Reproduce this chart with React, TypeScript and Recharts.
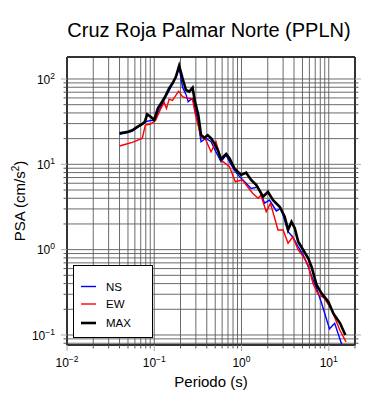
import React from 'react';
import { LineChart, Line, XAxis, YAxis, CartesianGrid, Legend } from 'recharts';

const FONT = '"Liberation Sans", Arial, Helvetica, sans-serif';

const nsPeriods = [0.04, 0.05, 0.056, 0.064, 0.073, 0.078, 0.083, 0.091, 0.1, 0.11, 0.12, 0.13, 0.136, 0.15, 0.16, 0.177, 0.193, 0.211, 0.231, 0.245, 0.26, 0.275, 0.3, 0.32, 0.344, 0.39, 0.448, 0.51, 0.583, 0.667, 0.728, 0.85, 0.95, 1.29, 1.55, 1.84, 2.09, 2.51, 2.84, 3.42, 3.87, 4.47, 5.1, 5.82, 6.35, 7.26, 8.28, 10.2, 11.7, 14.3];
const nsValues = [22.5, 23.5, 24.5, 27, 29.5, 31, 32, 32.5, 33, 40, 48, 57, 62, 75, 86, 104, 135, 80, 66, 54, 57, 59, 41, 30, 18.4, 20.2, 18.4, 14.0, 10.7, 12.8, 10.7, 8.2, 7.18, 5.21, 5.43, 3.51, 3.81, 2.84, 3.06, 1.62, 1.41, 1.08, 0.865, 0.63, 0.49, 0.35, 0.235, 0.118, 0.137, 0.074];

const ewPeriods = [0.04, 0.047, 0.056, 0.064, 0.073, 0.079, 0.091, 0.104, 0.119, 0.13, 0.138, 0.148, 0.162, 0.19, 0.211, 0.231, 0.26, 0.275, 0.293, 0.32, 0.344, 0.39, 0.448, 0.51, 0.583, 0.728, 0.85, 1.02, 1.34, 1.55, 1.67, 1.92, 2.15, 2.62, 3.0, 3.42, 3.87, 4.47, 5.1, 5.82, 6.6, 7.55, 8.9, 10.7, 13.5, 15.8];
const ewValues = [16.4, 17.2, 18.1, 19.1, 20.2, 28.9, 29.7, 33.1, 45, 53, 45, 58, 56, 72, 62, 60, 59, 58, 40, 28, 21, 19.3, 14, 18.4, 11.2, 9.4, 6.24, 6.6, 4.58, 4.0, 4.35, 2.79, 3.49, 1.70, 1.70, 1.19, 1.41, 0.99, 0.83, 0.66, 0.40, 0.30, 0.27, 0.20, 0.112, 0.083];

const maxPeriods = [0.04, 0.05, 0.056, 0.064, 0.073, 0.078, 0.083, 0.091, 0.1, 0.11, 0.12, 0.13, 0.136, 0.148, 0.162, 0.177, 0.193, 0.211, 0.231, 0.252, 0.275, 0.293, 0.32, 0.344, 0.375, 0.41, 0.448, 0.489, 0.535, 0.583, 0.667, 0.728, 0.83, 0.99, 1.13, 1.29, 1.48, 1.77, 2.01, 2.3, 2.74, 3.13, 3.42, 3.74, 4.08, 4.47, 5.1, 5.82, 6.35, 7.26, 8.28, 9.89, 11.3, 13.5, 15.5];
const maxValues = [23.1, 24.1, 25.0, 27.4, 29.7, 31.6, 38.6, 36.1, 33.1, 45.4, 51.9, 59.4, 64.9, 77.8, 89, 106, 143, 102, 74.3, 71, 79.1, 54.2, 37.8, 22.0, 20.5, 22.0, 20.2, 17.6, 14.7, 11.5, 13.2, 11.8, 8.98, 7.49, 7.98, 6.55, 5.72, 4.17, 4.77, 3.81, 3.18, 2.43, 1.70, 2.12, 1.78, 1.24, 0.99, 0.79, 0.63, 0.385, 0.307, 0.245, 0.179, 0.137, 0.0998];

const xTicks = [0.01, 0.02, 0.03, 0.04, 0.05, 0.06, 0.07, 0.08, 0.09, 0.1, 0.2, 0.3, 0.4, 0.5, 0.6, 0.7, 0.8, 0.9, 1, 2, 3, 4, 5, 6, 7, 8, 9, 10, 20];
const yTicks = [0.08, 0.09, 0.1, 0.2, 0.3, 0.4, 0.5, 0.6, 0.7, 0.8, 0.9, 1, 2, 3, 4, 5, 6, 7, 8, 9, 10, 20, 30, 40, 50, 60, 70, 80, 90, 100];

const seriesOrder = ['NS', 'EW', 'MAX'];

const X_DOMAIN: [number, number] = [0.01, 20];
const Y_DOMAIN: [number, number] = [0.0763, 181];

const TITLE = 'Cruz Roja Palmar Norte (PPLN)';
const X_LABEL = 'Periodo (s)';
const Y_LABEL = 'PSA (cm/s';

const toData = (ps: number[], vs: number[]) => ps.map((p, i) => ({ p, v: vs[i] }));
const nsData = toData(nsPeriods, nsValues);
const ewData = toData(ewPeriods, ewValues);
const maxData = toData(maxPeriods, maxValues);

const isMajor = (v: number) => Math.abs(Math.log10(v) - Math.round(Math.log10(v))) < 1e-6;
const expOf = (v: number) => {
  const e = Math.round(Math.log10(v));
  return e < 0 ? '\u2212' + Math.abs(e) : String(e);
};

const MAJ_LEN = 6;
const MIN_LEN = 3.5;
const MAJ_COL = '#aaaaaa';
const MIN_COL = '#555555';

const makeTick = (side: 'bottom' | 'top' | 'left' | 'right') => (props: any) => {
  const { x, y, payload } = props;
  const v = payload.value;
  const major = isMajor(v);
  const len = major ? MAJ_LEN : MIN_LEN;
  const col = major ? MAJ_COL : MIN_COL;
  let line;
  if (side === 'bottom') line = <line x1={x} x2={x} y1={y} y2={y + len} stroke={col} strokeWidth={1} />;
  else if (side === 'top') line = <line x1={x} x2={x} y1={y} y2={y - len} stroke={col} strokeWidth={1} />;
  else if (side === 'left') line = <line x1={x} x2={x - len} y1={y} y2={y} stroke={col} strokeWidth={1} />;
  else line = <line x1={x} x2={x + len} y1={y} y2={y} stroke={col} strokeWidth={1} />;
  let label = null;
  if (major && side === 'bottom') {
    label = (
      <text x={x} y={y + 21.7} textAnchor="middle" fontSize={12} fontFamily={FONT} fill="#000">
        <tspan>10</tspan>
        <tspan dy={-5} fontSize={8.5}>{expOf(v)}</tspan>
      </text>
    );
  } else if (major && side === 'left') {
    label = (
      <text x={x - 12} y={y + 4.6} textAnchor="end" fontSize={12} fontFamily={FONT} fill="#000">
        <tspan>10</tspan>
        <tspan dy={-5} fontSize={8.5}>{expOf(v)}</tspan>
      </text>
    );
  }
  return (
    <g>
      {line}
      {label}
    </g>
  );
};

const AXIS_LINE = { stroke: '#333333', strokeWidth: 2 };
const WIDTHS: Record<string, number> = { NS: 1.4, EW: 1.4, MAX: 2.6 };

const LegendBox = (props: any) => {
  const items = [...(props.payload || [])].sort(
    (a: any, b: any) => seriesOrder.indexOf(a.value) - seriesOrder.indexOf(b.value)
  );
  return (
    <div style={{ width: 80, height: 73, border: '1.5px solid #000', background: '#fff', boxSizing: 'border-box' }}>
      <svg width={77} height={70} style={{ display: 'block' }}>
        {items.map((it: any, i: number) => {
          const cy = [20.5, 38, 57][i] ?? 20 + i * 18;
          return (
            <g key={it.value}>
              <line x1={7} x2={22} y1={cy} y2={cy} stroke={it.color} strokeWidth={WIDTHS[it.value] ?? 1.5} />
              <text x={32} y={cy + 4.2} fontSize={11.5} fontFamily={FONT} fill="#000">{it.value}</text>
            </g>
          );
        })}
      </svg>
    </div>
  );
};

export default function App() {
  return (
    <div style={{ position: 'absolute', left: 0, top: 0, width: 390, height: 400, background: '#fff' }}>
      <LineChart width={390} height={400} margin={{ top: 56, right: 34, bottom: 15, left: 17 }}>
        <CartesianGrid stroke="#5a5a5a" strokeWidth={0.9} />
        <XAxis
          dataKey="p"
          type="number"
          scale="log"
          domain={X_DOMAIN}
          allowDataOverflow
          ticks={xTicks}
          interval={0}
          tickSize={0}
          tickMargin={0}
          tickLine={false}
          axisLine={AXIS_LINE}
          tick={makeTick('bottom')}
          height={40}
          label={{
            content: (p: any) => {
              const vb = p.viewBox;
              return (
                <text x={vb.x + vb.width / 2} y={vb.y + 41.5} textAnchor="middle" fontSize={15} fontFamily={FONT} fill="#000">
                  {X_LABEL}
                </text>
              );
            },
          }}
        />
        <XAxis
          xAxisId="top"
          orientation="top"
          type="number"
          scale="log"
          domain={X_DOMAIN}
          allowDataOverflow
          ticks={xTicks}
          interval={0}
          tickSize={0}
          tickMargin={0}
          tickLine={false}
          axisLine={AXIS_LINE}
          tick={makeTick('top')}
          height={1}
          label={{
            content: (p: any) => {
              const vb = p.viewBox;
              return (
                <text x={vb.x + vb.width / 2 - 2} y={vb.y - 19.5} textAnchor="middle" fontSize={20} fontFamily={FONT} fill="#000">
                  {TITLE}
                </text>
              );
            },
          }}
        />
        <YAxis
          type="number"
          scale="log"
          domain={Y_DOMAIN}
          allowDataOverflow
          ticks={yTicks}
          interval={0}
          tickSize={0}
          tickMargin={0}
          tickLine={false}
          axisLine={AXIS_LINE}
          tick={makeTick('left')}
          width={50}
          label={{
            content: (p: any) => {
              const vb = p.viewBox;
              const cx = vb.x + 8;
              const cy = vb.y + vb.height / 2;
              return (
                <text x={cx} y={cy} transform={`rotate(-90, ${cx}, ${cy})`} textAnchor="middle" fontSize={15} fontFamily={FONT} fill="#000">
                  {Y_LABEL}
                  <tspan dy={-6} fontSize={10}>2</tspan>
                  <tspan dy={6}>)</tspan>
                </text>
              );
            },
          }}
        />
        <YAxis
          yAxisId="right"
          orientation="right"
          type="number"
          scale="log"
          domain={Y_DOMAIN}
          allowDataOverflow
          ticks={yTicks}
          interval={0}
          tickSize={0}
          tickMargin={0}
          tickLine={false}
          axisLine={AXIS_LINE}
          tick={makeTick('right')}
          width={1}
        />
        <Line data={nsData} dataKey="v" name="NS" type="linear" stroke="#0000ff" strokeWidth={WIDTHS.NS} dot={false} isAnimationActive={false} />
        <Line data={ewData} dataKey="v" name="EW" type="linear" stroke="#ff0000" strokeWidth={WIDTHS.EW} dot={false} isAnimationActive={false} />
        <Line data={maxData} dataKey="v" name="MAX" type="linear" stroke="#000000" strokeWidth={WIDTHS.MAX} dot={false} isAnimationActive={false} />
        <Legend
          layout="vertical"
          align="center"
          verticalAlign="middle"
          content={<LegendBox />}
          wrapperStyle={{ left: 73, top: 265, bottom: 'auto', right: 'auto', width: 80, height: 73 }}
        />
      </LineChart>
    </div>
  );
}
